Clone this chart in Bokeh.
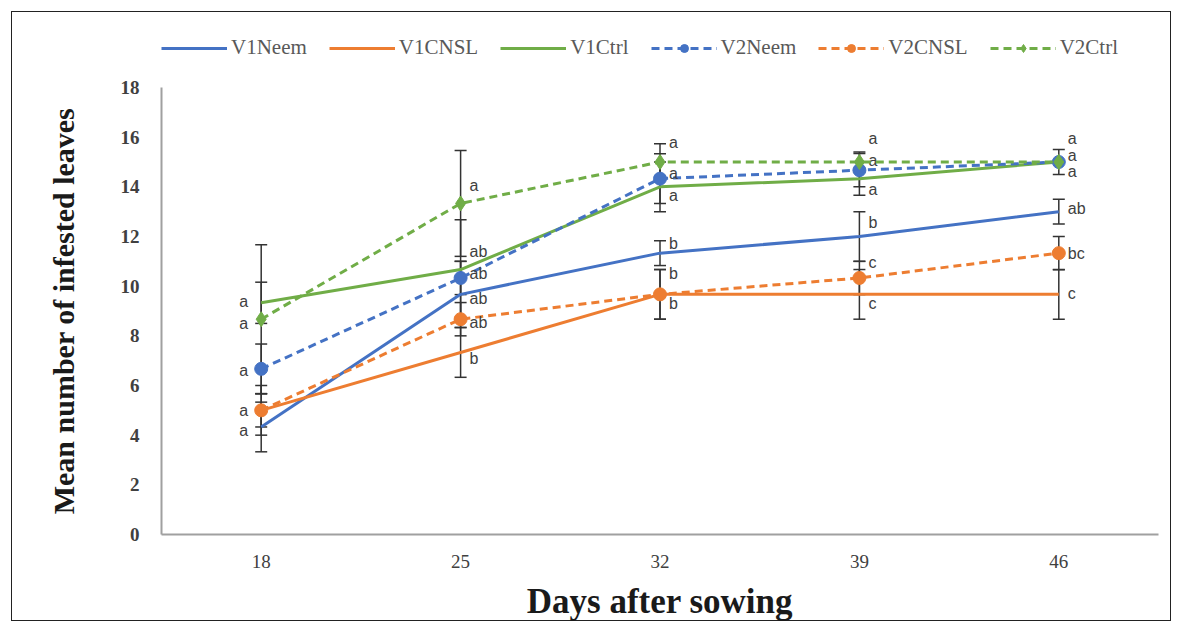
from bokeh.plotting import figure
from bokeh.layouts import column
from bokeh.models import ColumnDataSource, Whisker, TeeHead, Legend, LegendItem, FixedTicker, Range1d, Spacer
from bokeh.core.properties import value
from bokeh.embed import file_html
from bokeh.resources import INLINE

# ---------------- data ----------------
days = ["18", "25", "32", "39", "46"]

v1_neem = [4.33, 9.67, 11.33, 12.0, 13.0]
v1_cnsl = [5.0, 7.33, 9.67, 9.67, 9.67]
v1_ctrl = [9.33, 10.67, 14.0, 14.33, 15.0]
v2_neem = [6.67, 10.33, 14.33, 14.67, 15.0]
v2_cnsl = [5.0, 8.67, 9.67, 10.33, 11.33]
v2_ctrl = [8.67, 13.33, 15.0, 15.0, 15.0]

# standard errors (symmetric)
v1_neem_err = [1.0, 1.33, 0.5, 1.0, 0.5]
v1_cnsl_err = [0.67, 1.0, 1.0, 1.0, 1.0]
v1_ctrl_err = [0.83, 2.0, 1.0, 0.67, 0.0]
v2_neem_err = [1.0, 0.67, 1.0, 0.67, 0.5]
v2_cnsl_err = [1.0, 0.67, 1.0, 0.67, 0.67]
v2_ctrl_err = [3.0, 2.13, 0.73, 0.4, 0.0]

# significance letters
v1_neem_let = ["a", "ab", "b", "b", "ab"]
v1_cnsl_let = ["", "b", "b", "c", "c"]
v1_ctrl_let = ["a", "ab", "a", "a", "a"]
v2_neem_let = ["a", "ab", "a", "a", "a"]
v2_cnsl_let = ["a", "ab", "b", "c", "bc"]
v2_ctrl_let = ["a", "a", "a", "a", "a"]

# letter positions (data units)
v1_neem_lety = [4.2, 9.5, 11.7, 12.58, 13.12]
v1_cnsl_lety = [5.0, 7.1, 9.3, 9.31, 9.69]
v1_ctrl_lety = [9.4, 11.4, 13.65, 13.9, 14.6]
v2_neem_lety = [6.6, 10.5, 14.55, 15.06, 15.26]
v2_cnsl_lety = [5.0, 8.55, 10.5, 10.97, 11.3]
v2_ctrl_lety = [8.5, 14.05, 15.8, 15.95, 15.95]

BLUE = "#4472C4"
ORANGE = "#ED7D31"
GREEN = "#70AD47"

series = [
    ("V1Neem", v1_neem, v1_neem_err, v1_neem_let, v1_neem_lety, BLUE, False, None),
    ("V1CNSL", v1_cnsl, v1_cnsl_err, v1_cnsl_let, v1_cnsl_lety, ORANGE, False, None),
    ("V1Ctrl", v1_ctrl, v1_ctrl_err, v1_ctrl_let, v1_ctrl_lety, GREEN, False, None),
    ("V2Neem", v2_neem, v2_neem_err, v2_neem_let, v2_neem_lety, BLUE, True, "circle"),
    ("V2CNSL", v2_cnsl, v2_cnsl_err, v2_cnsl_let, v2_cnsl_lety, ORANGE, True, "circle"),
    ("V2Ctrl", v2_ctrl, v2_ctrl_err, v2_ctrl_let, v2_ctrl_lety, GREEN, True, "diamond"),
]

W = 1182

# ---- legend strip (top) ----
lg = figure(
    x_range=Range1d(0, 1), y_range=Range1d(0, 1),
    width=W, height=75,
    output_backend="svg", toolbar_location=None,
    min_border_left=0, min_border_right=0, min_border_top=0, min_border_bottom=0,
    x_axis_location=None, y_axis_location=None,
)
lg.outline_line_color = None
lg.xgrid.grid_line_color = None
lg.ygrid.grid_line_color = None
lg.border_fill_alpha = 0
lg.background_fill_alpha = 0

# ---- main chart ----
p = figure(
    x_range=days, y_range=Range1d(0, 18),
    width=W, height=550,
    output_backend="svg", toolbar_location=None,
    min_border_left=161, min_border_right=W - 1158,
    min_border_top=12, min_border_bottom=91,
)
p.outline_line_color = None
p.xgrid.grid_line_color = None
p.ygrid.grid_line_color = None
p.border_fill_alpha = 0
p.background_fill_alpha = 0

# axes
p.yaxis.ticker = FixedTicker(ticks=list(range(0, 19, 2)))
for ax in (p.xaxis[0], p.yaxis[0]):
    ax.axis_line_color = "#a0a0a0"
    ax.axis_line_width = 2
    ax.major_tick_line_color = None
    ax.minor_tick_line_color = None
    ax.major_label_text_font = "Liberation Serif"
    ax.major_label_text_font_size = "19px"
    ax.major_label_text_color = "#404040"
    ax.axis_label_text_font = "Liberation Serif"
    ax.axis_label_text_font_style = "bold"
    ax.axis_label_text_color = "#1a1a1a"
p.yaxis.major_label_text_font_style = "bold"
p.yaxis.major_label_standoff = 16
p.yaxis.axis_label = "Mean number of infested leaves"
p.yaxis.axis_label_text_font_size = "30px"
p.yaxis.axis_label_standoff = 38
p.xaxis.major_label_standoff = 14
p.xaxis.axis_label = "Days after sowing"
p.xaxis.axis_label_text_font_size = "35px"
p.xaxis.axis_label_standoff = 11

items = []
for name, vals, err, lets, lety, color, dashed, marker in series:
    lower = [v - e for v, e in zip(vals, err)]
    upper = [v + e for v, e in zip(vals, err)]
    src = ColumnDataSource(dict(x=days, y=vals, lower=lower, upper=upper))
    w = Whisker(source=src, base="x", lower="lower", upper="upper",
                line_color="#333333", line_width=1.5,
                lower_head=TeeHead(size=12, line_color="#333333", line_width=1.5),
                upper_head=TeeHead(size=12, line_color="#333333", line_width=1.5))
    p.add_layout(w)
    # off-screen point so the legend strip can draw the sample glyphs
    dummy = ColumnDataSource(dict(x=[-5], y=[-5]))
    rs = []
    if dashed:
        p.line("x", "y", source=src, line_color=color, line_width=3, line_dash="8 5")
        p.scatter("x", "y", source=src, marker=marker, size=13 if marker == "circle" else 15,
                  fill_color=color, line_color=color)
        rs.append(lg.line("x", "y", source=dummy, line_color=color, line_width=3, line_dash="8 5"))
        rs.append(lg.scatter("x", "y", source=dummy, marker=marker, size=12 if marker == "circle" else 14,
                             fill_color=color, line_color=color))
    else:
        p.line("x", "y", source=src, line_color=color, line_width=3)
        rs.append(lg.line("x", "y", source=dummy, line_color=color, line_width=3))
    items.append(LegendItem(label=name, renderers=rs))

    # letters
    first = ColumnDataSource(dict(x=days[:1], y=lety[:1], t=lets[:1]))
    rest = ColumnDataSource(dict(x=days[1:], y=lety[1:], t=lets[1:]))
    p.text("x", "y", text="t", source=first, text_align="right", text_baseline="middle",
           x_offset=-13, text_font=value("Liberation Sans"), text_font_size="16px", text_color="#404040")
    p.text("x", "y", text="t", source=rest, text_align="left", text_baseline="middle",
           x_offset=9, text_font=value("Liberation Sans"), text_font_size="16px", text_color="#404040")

legend = Legend(items=items, orientation="horizontal", location=(0, 15),
                glyph_width=66, glyph_height=20, label_standoff=4, spacing=22,
                padding=0, margin=0, border_line_color=None, background_fill_alpha=0,
                label_text_font="Liberation Serif", label_text_font_size="21px",
                label_text_color="#595959")
lg.add_layout(legend, "center")

layout = column(lg, p, Spacer(width=W, height=7), spacing=0)
layout.styles = {"outline": "1.5px solid #222", "outline-offset": "-12px"}

open("out.html", "w").write(file_html(layout, INLINE))
